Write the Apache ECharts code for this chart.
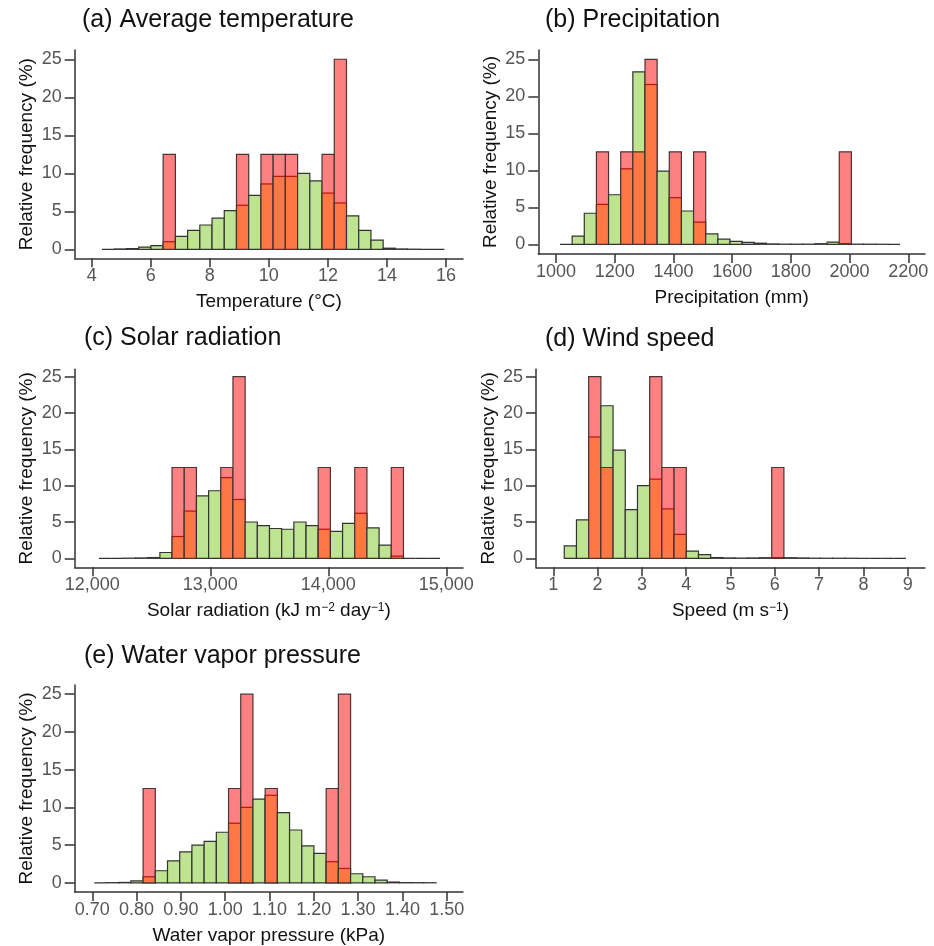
<!DOCTYPE html>
<html>
<head>
<meta charset="utf-8">
<script src="https://cdn.jsdelivr.net/npm/echarts@6/dist/echarts.min.js"></script>
<style>
  html, body { margin: 0; padding: 0; background: #fff; }
  #main { width: 934px; height: 946px; }
</style>
</head>
<body>
<div id="main"></div>
<script>
// bins: 28 per panel, start + width of the first bin
const tempStart = 4.35, tempWidth = 0.414;
const tempGreen = [0, 0.05, 0.1, 0.3, 0.5, 1.0, 1.7, 2.5, 3.2, 4.1, 5.1, 5.8, 7.1, 8.6, 9.6, 9.6, 10.0, 9.0, 7.4, 6.1, 4.4, 2.5, 1.2, 0.15, 0.05, 0.02, 0, 0];
const tempRed   = [0, 0, 0, 0, 0, 12.5, 0, 0, 0, 0, 0, 12.5, 0, 12.5, 12.5, 12.5, 0, 0, 12.5, 25, 0, 0, 0, 0, 0, 0, 0, 0];

const precStart = 1013.6, precWidth = 41.36;
const precGreen = [0, 1.1, 4.2, 5.4, 6.7, 10.2, 23.3, 21.6, 9.9, 6.3, 4.5, 3.0, 1.4, 0.7, 0.4, 0.25, 0.15, 0.05, 0.02, 0.02, 0.02, 0.08, 0.3, 0.1, 0.02, 0.02, 0.01, 0];
const precRed   = [0, 0, 0, 12.5, 0, 12.5, 12.5, 25, 0, 12.5, 0, 12.5, 0, 0, 0, 0, 0, 0, 0, 0, 0, 0, 0, 12.5, 0, 0, 0, 0];

const solarStart = 12057, solarWidth = 103.2;
const solarGreen = [0, 0, 0.02, 0.05, 0.1, 0.8, 3.0, 6.5, 8.6, 9.3, 11.1, 8.1, 5.0, 4.5, 4.1, 4.0, 5.0, 4.5, 4.0, 3.7, 4.8, 6.2, 4.2, 1.8, 0.3, 0, 0, 0];
const solarRed   = [0, 0, 0, 0, 0, 0, 12.5, 12.5, 0, 0, 12.5, 25, 0, 0, 0, 0, 0, 0, 12.5, 0, 0, 12.5, 0, 0, 12.5, 0, 0, 0];

const windStart = 1.248, windWidth = 0.2754;
const windGreen = [1.7, 5.3, 16.7, 21.0, 14.9, 6.7, 10.0, 10.9, 6.8, 3.3, 1.0, 0.5, 0.1, 0.05, 0.03, 0.05, 0.08, 0.1, 0.08, 0.05, 0.02, 0.01, 0.01, 0.01, 0, 0, 0, 0];
const windRed   = [0, 0, 25, 12.5, 0, 0, 0, 25, 12.5, 12.5, 0, 0, 0, 0, 0, 0, 0, 12.5, 0, 0, 0, 0, 0, 0, 0, 0, 0, 0];

const vapStart = 0.7045, vapWidth = 0.02755;
const vapGreen = [0, 0.02, 0.05, 0.25, 0.8, 1.6, 2.9, 4.1, 5.0, 5.5, 6.7, 7.9, 10.0, 11.1, 11.6, 9.3, 7.0, 4.9, 3.9, 2.8, 1.9, 1.2, 0.8, 0.35, 0.1, 0.03, 0.02, 0.01];
const vapRed   = [0, 0, 0, 0, 12.5, 0, 0, 0, 0, 0, 0, 12.5, 25, 0, 12.5, 0, 0, 0, 0, 12.5, 25, 0, 0, 0, 0, 0, 0, 0];

const yTicks = [0, 5, 10, 15, 20, 25];
const tempTicks = [4, 6, 8, 10, 12, 14, 16];
const precTicks = [1000, 1200, 1400, 1600, 1800, 2000, 2200];
const solarTicks = [12000, 13000, 14000, 15000];
const windTicks = [1, 2, 3, 4, 5, 6, 7, 8, 9];
const vapTicks = [0.7, 0.8, 0.9, 1.0, 1.1, 1.2, 1.3, 1.4, 1.5];

const FONT = '"Liberation Sans", Arial, sans-serif';
const GREEN = '#bee491', PINK = '#ff8080', ORANGE = '#ff7744';

function binData(start, width, green, red) {
  return green.map(function (g, i) {
    return [start + i * width, start + (i + 1) * width, g, red[i]];
  });
}

function renderBin(params, api) {
  const x0 = api.value(0), x1 = api.value(1), g = api.value(2), r = api.value(3);
  const base = api.coord([x0, 0]);
  const xr = api.coord([x1, 0])[0];
  const w = xr - base[0];
  const yg = api.coord([x0, g])[1];
  const children = [{
    type: 'rect',
    shape: { x: base[0], y: yg, width: w, height: base[1] - yg },
    style: { fill: GREEN, stroke: '#333', lineWidth: 1.2 }
  }];
  if (r > 0) {
    const yr = api.coord([x0, r])[1];
    const ym = api.coord([x0, Math.min(g, r)])[1];
    children.push({
      type: 'rect',
      shape: { x: base[0], y: ym, width: w, height: base[1] - ym },
      style: { fill: ORANGE }
    });
    if (r > g) {
      children.push({
        type: 'rect',
        shape: { x: base[0], y: yr, width: w, height: ym - yr },
        style: { fill: PINK }
      });
      children.push({
        type: 'line',
        shape: { x1: base[0], y1: yg, x2: xr, y2: yg },
        style: { stroke: '#c01010', lineWidth: 1.2 }
      });
    }
    children.push({
      type: 'rect',
      shape: { x: base[0], y: yr, width: w, height: base[1] - yr },
      style: { fill: 'none', stroke: '#4a3434', lineWidth: 1.2 }
    });
  }
  return { type: 'group', children: children };
}

const panels = [
  { title: '(a) Average temperature', tl: 82, tt: 8,
    grid: { left: 74.7, top: 50, width: 388.3, height: 208.3 },
    xmin: 3.424, xmax: 16.576, ymin: -1.18, ymax: 26.22, ticks: tempTicks,
    fmt: function (v) { return String(v); },
    xName: 'Temperature (°C)',
    data: binData(tempStart, tempWidth, tempGreen, tempRed) },
  { title: '(b) Precipitation', tl: 545, tt: 8,
    grid: { left: 538.3, top: 50, width: 386.7, height: 204 },
    xmin: 939.7, xmax: 2256.9, ymin: -1.31, ymax: 26.26, ticks: precTicks,
    fmt: function (v) { return String(v); },
    xName: 'Precipitation (mm)',
    data: binData(precStart, precWidth, precGreen, precRed) },
  { title: '(c) Solar radiation', tl: 84, tt: 326,
    grid: { left: 74.7, top: 369.3, width: 388.3, height: 198 },
    xmin: 11851, xmax: 15141.5, ymin: -1.24, ymax: 26.02, ticks: solarTicks,
    fmt: function (v) { return Math.round(v).toLocaleString('en-US'); },
    xName: 'Solar radiation (kJ m{sup|−2} day{sup|−1})',
    data: binData(solarStart, solarWidth, solarGreen, solarRed) },
  { title: '(d) Wind speed', tl: 545, tt: 327,
    grid: { left: 536, top: 369.3, width: 389, height: 198 },
    xmin: 0.61, xmax: 9.39, ymin: -1.24, ymax: 26.02, ticks: windTicks,
    fmt: function (v) { return String(v); },
    xName: 'Speed (m s{sup|−1})',
    data: binData(windStart, windWidth, windGreen, windRed) },
  { title: '(e) Water vapor pressure', tl: 84, tt: 644,
    grid: { left: 74.7, top: 685, width: 388.3, height: 208.3 },
    xmin: 0.6603, xmax: 1.5368, ymin: -1.22, ymax: 26.22, ticks: vapTicks,
    fmt: function (v) { return v.toFixed(2); },
    xName: 'Water vapor pressure (kPa)',
    data: binData(vapStart, vapWidth, vapGreen, vapRed) }
];

const axisLine = { show: true, onZero: false, lineStyle: { color: '#333', width: 1.5 } };
const option = {
  animation: false,
  backgroundColor: '#fff',
  title: [], grid: [], xAxis: [], yAxis: [], series: []
};

panels.forEach(function (p, i) {
  option.title.push({
    text: p.title, left: p.tl, top: p.tt, padding: 0,
    textStyle: { fontFamily: FONT, fontSize: 25, fontWeight: 'normal', color: '#111' }
  });
  option.grid.push(Object.assign({ containLabel: false }, p.grid));
  option.xAxis.push({
    type: 'value', gridIndex: i, min: p.xmin, max: p.xmax,
    axisLine: axisLine,
    axisTick: { show: true, length: 9, customValues: p.ticks, lineStyle: { color: '#333', width: 1.5 } },
    axisLabel: { customValues: p.ticks, formatter: p.fmt, margin: 9, fontSize: 18, color: '#555', fontFamily: FONT },
    splitLine: { show: false },
    name: p.xName, nameLocation: 'middle', nameGap: 34,
    nameTextStyle: {
      fontFamily: FONT, fontSize: 19, color: '#111',
      rich: { sup: { fontFamily: FONT, fontSize: 12, color: '#111', verticalAlign: 'top' } }
    }
  });
  option.yAxis.push({
    type: 'value', gridIndex: i, min: p.ymin, max: p.ymax,
    axisLine: axisLine,
    axisTick: { show: true, length: 10, customValues: yTicks, lineStyle: { color: '#333', width: 1.5 } },
    axisLabel: { customValues: yTicks, margin: 13, fontSize: 18, color: '#555', fontFamily: FONT },
    splitLine: { show: false },
    name: 'Relative frequency (%)', nameLocation: 'middle', nameGap: 38,
    nameTextStyle: { fontFamily: FONT, fontSize: 19, color: '#111' }
  });
  option.series.push({
    type: 'custom', xAxisIndex: i, yAxisIndex: i,
    renderItem: renderBin,
    encode: { x: [0, 1], y: [2, 3] },
    data: p.data
  });
});

const chart = echarts.init(document.getElementById('main'));
chart.setOption(option);
</script>
</body>
</html>
